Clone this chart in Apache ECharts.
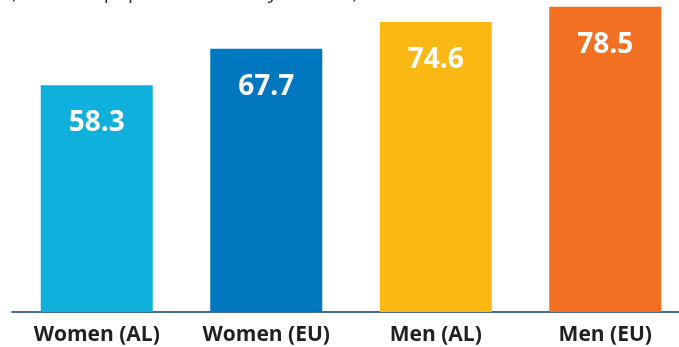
<!DOCTYPE html>
<html><head><meta charset="utf-8">
<script src="https://cdn.jsdelivr.net/npm/echarts@6/dist/echarts.min.js"></script>
<style>html,body{margin:0;padding:0;background:#fff;overflow:hidden}#c{width:690px;height:347px}</style>
</head><body><div id="c"></div>
<script>
const categories = ['Women (AL)', 'Women (EU)', 'Men (AL)', 'Men (EU)'];
const values = [58.3, 67.7, 74.6, 78.5];
const colors = ['#10b0dd', '#0077be', '#fdb913', '#f36f21'];
const subtitle = '(as a % of population 20-64 years old)';

const chart = echarts.init(document.getElementById('c'), null, {renderer: 'canvas'});
chart.setOption({
  animation: false,
  graphic: [{
    type: 'text', left: 10, top: -18,
    style: {text: subtitle, font: '20px "Open Sans"', fill: '#333'}
  }],
  grid: {left: 12, right: 0, top: 1, bottom: 35, containLabel: false},
  xAxis: {
    type: 'category', data: categories,
    axisLine: {lineStyle: {color: '#4a6d94', width: 2}},
    axisTick: {show: false},
    axisLabel: {color: '#231f20', fontFamily: 'Open Sans', fontWeight: 'bold', fontSize: 21, margin: 13}
  },
  yAxis: {type: 'value', min: 0, max: 80, show: false, splitLine: {show: false}},
  series: [{
    type: 'bar', barWidth: 112,
    data: values.map((v, i) => ({value: v, itemStyle: {color: colors[i]}})),
    label: {show: true, position: 'insideTop', distance: 24, color: '#fff',
      fontFamily: 'Open Sans', fontWeight: 'bold', fontSize: 28}
  }]
});
</script></body></html>
